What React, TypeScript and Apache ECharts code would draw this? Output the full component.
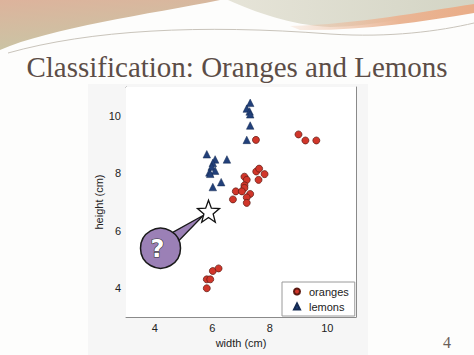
import React, { useEffect, useRef } from "react";
import * as echarts from "echarts";

const titleText = "Classification: Oranges and Lemons";
const pageNumber = "4";
const xName = "width (cm)";
const yName = "height (cm)";
const xTicks = [4, 6, 8, 10];
const yTicks = [4, 6, 8, 10];
const axisMin = 3;
const axisMax = 11;

const oranges: number[][] = [
  [7.52, 9.16], [9.0, 9.35], [9.24, 9.14], [9.62, 9.14],
  [7.12, 7.88], [7.2, 7.77], [7.53, 8.06], [7.63, 8.16], [7.82, 7.97], [7.61, 7.77],
  [7.12, 7.58], [7.12, 7.49], [6.82, 7.37], [7.03, 7.37], [7.32, 7.28], [7.2, 7.16],
  [6.72, 7.09], [7.2, 6.97],
  [6.02, 4.6], [6.22, 4.69], [5.81, 4.31], [5.93, 4.31], [5.81, 4.0],
];

const lemons: number[][] = [
  [7.32, 10.45], [7.2, 10.25], [7.3, 10.15], [7.32, 10.05], [7.32, 9.66], [7.2, 9.16],
  [5.81, 8.66], [6.1, 8.48], [6.51, 8.48], [6.02, 8.36], [5.98, 8.23], [6.1, 8.09],
  [5.9, 8.03], [5.93, 7.98], [6.02, 7.52], [6.31, 7.69],
];

const queryPoint: number[] = [5.87, 6.68];

const STAR =
  "path://M50,0L62.34,33.01L97.55,34.55L69.97,56.49L79.39,90.45L50,71L20.61,90.45L30.03,56.49L2.45,34.55L37.66,33.01Z";

const sans = "Liberation Sans, Arial, Helvetica, sans-serif";
const serif = "Liberation Serif, Times New Roman, serif";

function axisCommon(showLabels: boolean, ticks: number[]) {
  return {
    type: "value" as const,
    min: axisMin,
    max: axisMax,
    splitLine: { show: false },
    axisLine: { show: true, onZero: false, lineStyle: { color: "#8a8a8a", width: 1 } },
    axisTick: { show: true, inside: true, length: 4, customValues: ticks, lineStyle: { color: "#8a8a8a" } },
    axisLabel: {
      show: showLabels,
      customValues: ticks,
      color: "#222",
      fontSize: 11,
      fontFamily: sans,
      margin: 5,
    },
  };
}

export default function App() {
  const ref = useRef<HTMLDivElement>(null);

  useEffect(() => {
    const G: any = echarts.graphic;
    G.registerShape("hdrTan", G.extendPath("M0,0 L220,0 C150,14 50,28 0,50 Z", {}));
    G.registerShape(
      "hdrGreen",
      G.extendPath("M228,0 L474,0 L474,6 C420,16 365,27 330,27 C290,25 255,12 228,0 Z", {})
    );
    G.registerShape(
      "hdrPeach",
      G.extendPath("M290,26 C360,24 420,12 474,4 L474,13 C420,22 360,31 300,30 Z", {})
    );
    G.registerShape(
      "hdrLine",
      G.extendPath("M8,53 C90,30 200,24 330,34 C390,38 440,31 474,23", {})
    );

    const chart = echarts.init(ref.current!, null, { renderer: "svg" });
    const option: any = {
      animation: false,
      backgroundColor: "#fdfdfc",
      grid: {
        left: 126,
        top: 87,
        width: 230,
        height: 230,
        show: true,
        backgroundColor: "#ffffff",
        borderWidth: 0,
        z: 1,
      },
      xAxis: [
        {
          ...axisCommon(true, xTicks),
          position: "bottom",
          name: xName,
          nameLocation: "middle",
          nameGap: 18,
          nameTextStyle: { color: "#222", fontSize: 11, fontFamily: sans },
        },
        { ...axisCommon(false, xTicks), position: "top" },
      ],
      yAxis: [
        {
          ...axisCommon(true, yTicks),
          position: "left",
          name: yName,
          nameLocation: "middle",
          nameGap: 16,
          nameTextStyle: { color: "#222", fontSize: 11, fontFamily: sans },
        },
        { ...axisCommon(false, yTicks), position: "right" },
      ],
      legend: {
        orient: "vertical",
        left: 282,
        top: 282,
        padding: [4, 6, 4, 11],
        itemGap: 4,
        itemWidth: 6,
        itemHeight: 6,
        backgroundColor: "#ffffff",
        borderColor: "#9a9a9a",
        borderWidth: 1,
        borderRadius: 0,
        textStyle: { color: "#222", fontSize: 11, fontFamily: sans, padding: [0, 0, 0, 4] },
        data: ["oranges", "lemons"],
      },
      series: [
        {
          name: "oranges",
          type: "scatter",
          symbol: "circle",
          symbolSize: 7,
          z: 3,
          itemStyle: { color: "#d1362a", borderColor: "#5a1a12", borderWidth: 0.7, opacity: 1 },
          data: oranges,
        },
        {
          name: "lemons",
          type: "scatter",
          symbol: "triangle",
          symbolSize: 7.5,
          z: 3,
          itemStyle: { color: "#22407a", borderColor: "#142a52", borderWidth: 0.5, opacity: 1 },
          data: lemons,
        },
        {
          name: "query",
          type: "scatter",
          symbol: STAR,
          symbolSize: 22,
          z: 5,
          itemStyle: { color: "#ffffff", borderColor: "#111", borderWidth: 1.3, opacity: 1 },
          data: [queryPoint],
        },
      ],
    };
    chart.setOption(option);

    const p = chart.convertToPixel({ gridIndex: 0 }, queryPoint) as number[];
    const cx = p[0] - 48;
    const cy = p[1] + 37;
    const r = 20;
    const ang = Math.atan2(p[1] + 4 - cy, p[0] - 5 - cx);
    const spread = 0.26;
    const b1 = [cx + r * Math.cos(ang - spread), cy + r * Math.sin(ang - spread)];
    const b2 = [cx + r * Math.cos(ang + spread), cy + r * Math.sin(ang + spread)];

    chart.setOption({
      graphic: {
        elements: [
          {
            type: "rect",
            z: -5,
            silent: true,
            shape: { x: 88, y: 84, width: 280, height: 271 },
            style: { fill: "#f6f6f6" },
          },
          {
            type: "hdrTan",
            z: -4,
            silent: true,
            style: {
              fill: new echarts.graphic.LinearGradient(0, 0, 0.3, 1, [
                { offset: 0, color: "#ddb39c" },
                { offset: 1, color: "#c9c5a5" },
              ]),
            },
          },
          {
            type: "hdrGreen",
            z: -4,
            silent: true,
            style: {
              fill: new echarts.graphic.LinearGradient(0, 0, 1, 0, [
                { offset: 0, color: "#e6e4d8" },
                { offset: 1, color: "#d3d4c4" },
              ]),
            },
          },
          {
            type: "hdrPeach",
            z: -4,
            silent: true,
            style: {
              fill: new echarts.graphic.LinearGradient(0, 0, 1, 0, [
                { offset: 0, color: "rgba(236,190,160,0.2)" },
                { offset: 0.6, color: "#eab594" },
                { offset: 1, color: "#e9ad88" },
              ]),
            },
          },
          {
            type: "hdrLine",
            z: -4,
            silent: true,
            style: { fill: "none", stroke: "#c9c4bb", lineWidth: 1 },
          },
          {
            type: "text",
            z: -3,
            x: 237,
            y: 67,
            style: {
              text: titleText,
              fill: "#5c4d47",
              font: `29px ${serif}`,
              textAlign: "center",
              textVerticalAlign: "middle",
            },
          },
          {
            type: "text",
            z: -3,
            x: 447,
            y: 342,
            style: {
              text: pageNumber,
              fill: "#6b5f58",
              font: `16px ${serif}`,
              textAlign: "center",
              textVerticalAlign: "middle",
            },
          },
          {
            type: "polygon",
            z: 10,
            shape: { points: [b1, [p[0] - 5, p[1] + 4], b2] },
            style: { fill: "#9b80b6", stroke: "#1a1a1a", lineWidth: 1.3, lineJoin: "round" },
          },
          {
            type: "circle",
            z: 11,
            shape: { cx, cy, r },
            style: { fill: "#9b80b6", stroke: "#1a1a1a", lineWidth: 1.5 },
          },
          {
            type: "text",
            z: 12,
            x: cx - 3,
            y: cy + 1,
            style: {
              text: "?",
              fill: "#ffffff",
              stroke: "#333",
              lineWidth: 1.2,
              font: `bold 24px DejaVu Sans, sans-serif`,
              textAlign: "center",
              textVerticalAlign: "middle",
            },
          },
        ],
      },
    });

    return () => chart.dispose();
  }, []);

  return (
    <div
      ref={ref}
      style={{ position: "absolute", left: 0, top: 0, width: 474, height: 355 }}
    />
  );
}
